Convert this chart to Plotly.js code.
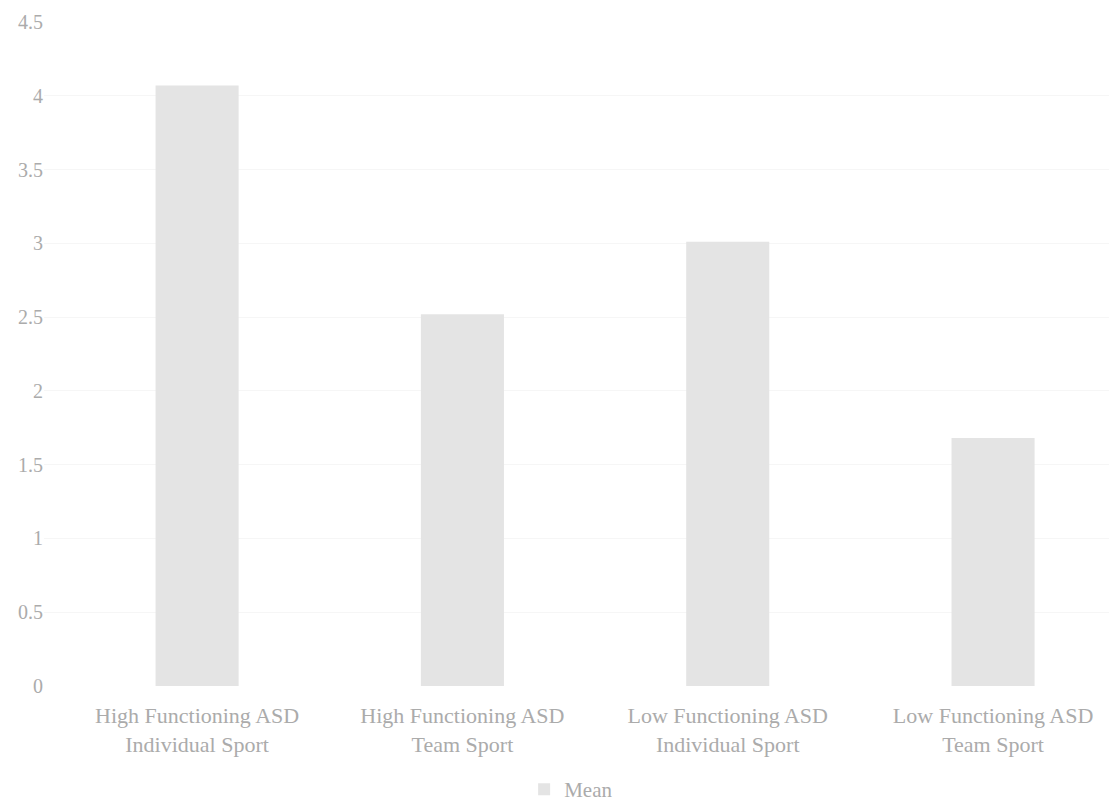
<!DOCTYPE html>
<html>
<head>
<meta charset="utf-8">
<script src="https://cdn.plot.ly/plotly-3.0.1.min.js"></script>
<style>
  html, body { margin: 0; padding: 0; background: #ffffff; }
  #chart { width: 1109px; height: 804px; }
</style>
</head>
<body>
<div id="chart"></div>
<script>
// Mean score per group
const categories = [
  'High Functioning ASD<br>Individual Sport',
  'High Functioning ASD<br>Team Sport',
  'Low Functioning ASD<br>Individual Sport',
  'Low Functioning ASD<br>Team Sport'
];
const meanValues = [4.07, 2.52, 3.01, 1.68];
const yTickValues = [0, 0.5, 1, 1.5, 2, 2.5, 3, 3.5, 4, 4.5];
const yTickLabels = ['0', '0.5', '1', '1.5', '2', '2.5', '3', '3.5', '4', '4.5'];
const seriesName = 'Mean';

const textColor = '#ababab';
const fontFamily = '"Liberation Serif", "DejaVu Serif", serif';

const trace = {
  type: 'bar',
  name: seriesName,
  x: [0, 1, 2, 3],
  y: meanValues,
  marker: { color: '#e4e4e4', line: { width: 0 } },
  width: 0.313,
  showlegend: true,
  hoverinfo: 'skip'
};

const layout = {
  width: 1109,
  height: 804,
  margin: { l: 44, r: 0, t: 22, b: 118, autoexpand: false },
  paper_bgcolor: '#ffffff',
  plot_bgcolor: '#ffffff',
  font: { family: fontFamily, color: textColor, size: 20 },
  xaxis: {
    range: [-0.577, 3.437],
    tickmode: 'array',
    tickvals: [0, 1, 2, 3],
    ticktext: categories,
    showgrid: false,
    zeroline: false,
    showline: false,
    ticks: '',
    ticklabelstandoff: 14,
    tickfont: { family: fontFamily, color: textColor, size: 22 },
    fixedrange: true
  },
  yaxis: {
    range: [0, 4.5],
    tickmode: 'array',
    tickvals: yTickValues,
    ticktext: yTickLabels,
    showgrid: true,
    gridcolor: '#f6f6f6',
    gridwidth: 1,
    zeroline: false,
    showline: false,
    ticks: '',
    tickfont: { family: fontFamily, color: textColor, size: 20 },
    fixedrange: true
  },
  showlegend: true,
  legend: {
    orientation: 'h',
    xref: 'container',
    yref: 'container',
    x: 0.515,
    xanchor: 'center',
    y: 0.018,
    yanchor: 'middle',
    borderwidth: 0,
    font: { family: fontFamily, color: textColor, size: 21 },
    itemwidth: 30
  }
};

Plotly.newPlot('chart', [trace], layout, { displayModeBar: false, staticPlot: true });
</script>
</body>
</html>
